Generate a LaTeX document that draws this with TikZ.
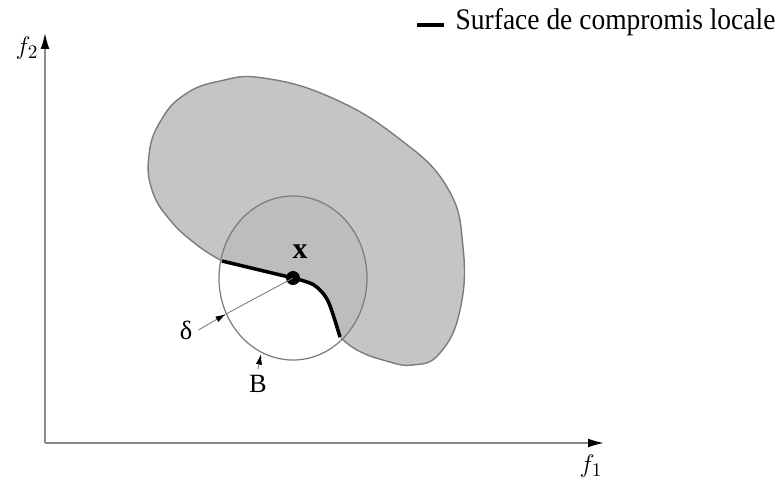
\documentclass[tikz,border=0pt]{standalone}
\usepackage{fontspec}
\setmainfont{Liberation Serif}
\usepackage{tikz}
\usetikzlibrary{arrows.meta,positioning,calc}
\definecolor{regiongray}{HTML}{C5C5C5}
\definecolor{overlapgray}{HTML}{BDBDBD}
\definecolor{edgegray}{HTML}{7C7C7C}
\definecolor{axisgray}{HTML}{8A8A8A}

\begin{document}
\begin{tikzpicture}[x=0.02cm,y=-0.02cm,
          every node/.style={font=\fontsize{15}{18}\selectfont},
          axis/.style={axisgray,line width=0.9pt,-{Latex[black,length=9pt,width=5pt]}},
          region/.style={fill=regiongray,draw=edgegray,line width=0.8pt},
          front/.style={black,line width=2pt,line join=round},
          ball/.style={edgegray,line width=0.7pt},
          pointer/.style={edgegray,line width=0.5pt,-{Latex[black,length=6pt,width=3.5pt]}},
      ]
        \useasboundingbox (0,0) rectangle (784,478);

        % axes
        \coordinate (O) at (45,443);
        \coordinate (f2end) at (45,33);
        \coordinate (f1end) at (604,443);
        \draw[axis] (O) -- (f2end);
        \draw[axis] (O) -- (f1end);
        \node (f2) at (27,48) {$f_2$};
        \node (f1) at (591,466) {$f_1$};

        % region of feasible objectives
        \def\regionpath{plot[smooth,tension=0.75] coordinates {(340,337) (357,350)
            (383,360) (413,365) (440,353) (460,310) (463,247) (447,187) (397,137)
            (330,97) (263,78) (220,81) (184,95) (160,122) (149,155) (152,190)
            (170,220) (197,245) (222,261)}
          -- plot[smooth,tension=0.5] coordinates {(293,278) (314,285) (328,301) (340,337)}
          -- cycle}
        \path[region] \regionpath;

        % neighbourhood B around x
        \coordinate (x) at (293,278);
        \begin{scope}
          \clip \regionpath;
          \fill[overlapgray] (x) ellipse [x radius=74, y radius=82];
        \end{scope}
        \draw[ball] (x) ellipse [x radius=74, y radius=82];

        % local compromise surface
        \draw[front] (222,261) -- (x)
          plot[smooth,tension=0.5] coordinates {(293,278) (314,285) (328,301) (340,337)};
        \fill[black] (x) circle (7);
        \node[font=\fontsize{17}{20}\selectfont\bfseries] (xlab) at (300,252) {x};

        % radius delta and ball B
        \coordinate (dA) at (226,314);
        \coordinate (bA) at (261,354);
        \node (delta) at (186,330) {δ};
        \node (B) at (258,384) {B};
        \draw[edgegray,line width=0.5pt] (x) -- (dA);
        \draw[pointer] (delta.east) -- (dA);
        \draw[pointer] (B.north) -- (bA);

        % legend
        \coordinate (legA) at (417,25);
        \coordinate (legB) at (444,25);
        \draw[black,line width=2.2pt] (legA) -- (legB);
        \node[anchor=west,xscale=0.92,font=\fontsize{17}{20}\selectfont] (legtext)
          at (450,22) {Surface de compromis locale};
      \end{tikzpicture}
\end{document}
